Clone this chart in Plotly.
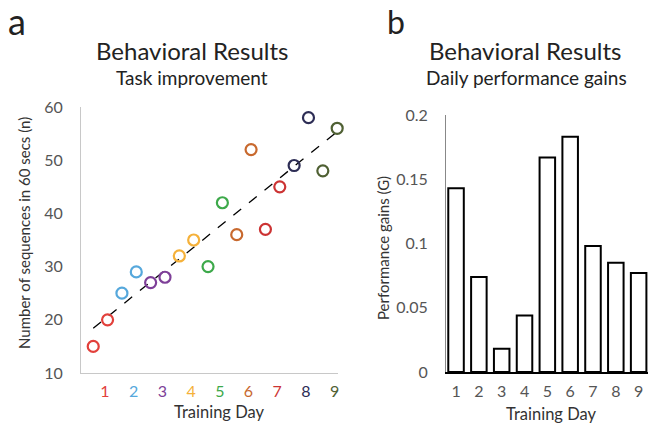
import numpy as np
import plotly.graph_objects as go

# ---- data ----
days = [1, 2, 3, 4, 5, 6, 7, 8, 9]
day_colors = ["#e2403b", "#56a8dc", "#7e3f98", "#f5b13a", "#3da94a",
              "#c8692e", "#cc3333", "#2d2d55", "#4f6033"]
session1 = [15, 25, 27, 32, 30, 36, 37, 49, 48]   # first test of the day
session2 = [20, 29, 28, 35, 42, 52, 45, 58, 56]   # second test of the day
gains = [0.143, 0.074, 0.018, 0.044, 0.167, 0.183, 0.098, 0.085, 0.077]
session_offsets = [-0.41, 0.09]

FONT = "Lato"
W, H = 648, 426

def PX(x):
    return x / W

def PY(y):
    return 1 - y / H

fig = go.Figure()

# panel a: scatter of sessions
xs, ys, cs = [], [], []
for d, c, a, b in zip(days, day_colors, session1, session2):
    xs += [d + session_offsets[0], d + session_offsets[1]]
    ys += [a, b]
    cs += [c, c]

# linear trend through all sessions
idx = np.arange(1, len(ys) + 1)
k, c0 = np.polyfit(idx, ys, 1)
fig.add_trace(go.Scatter(
    x=[xs[0], xs[-1]], y=[c0 + k * idx[0], c0 + k * idx[-1]],
    mode="lines", line=dict(color="black", width=1.3, dash="10px,10px"),
    xaxis="x", yaxis="y", showlegend=False, hoverinfo="skip", cliponaxis=False))

fig.add_trace(go.Scatter(
    x=xs, y=ys, mode="markers", cliponaxis=False,
    marker=dict(symbol="circle-open", size=11, color=cs, line=dict(width=2.2)),
    xaxis="x", yaxis="y", showlegend=False))

# panel b: bars
fig.add_trace(go.Bar(
    x=days, y=gains, width=0.68, cliponaxis=False,
    marker=dict(color="white", line=dict(color="black", width=2)),
    xaxis="x2", yaxis="y2", showlegend=False))

tick_font = dict(family=FONT, size=16, color="#555555")
ticktext_a = [f'<span style="color:{c}">{d}</span>' for d, c in zip(days, day_colors)]

XA_MIN, XA_MAX = 0.164, 9.12
fig.update_layout(
    width=W, height=H,
    margin=dict(l=0, r=0, t=0, b=0, autoexpand=False),
    paper_bgcolor="white", plot_bgcolor="white",
    font=dict(family=FONT),
    xaxis=dict(domain=[PX(81), PX(81 + (XA_MAX - XA_MIN) * 28.7)], range=[XA_MIN, XA_MAX],
               tickmode="array", tickvals=days, ticktext=ticktext_a,
               showgrid=False, zeroline=False, showline=True,
               linecolor="#c8c8c8", linewidth=1,
               ticks="outside", ticklen=4, tickcolor="rgba(0,0,0,0)",
               tickfont=dict(family=FONT, size=16), anchor="y", automargin=False),
    yaxis=dict(domain=[PY(373), PY(107)], range=[10, 60],
               tickvals=[10, 20, 30, 40, 50, 60],
               showgrid=False, zeroline=False, showline=True,
               linecolor="#c8c8c8", linewidth=1,
               ticks="outside", ticklen=14, tickcolor="rgba(0,0,0,0)",
               tickfont=tick_font, anchor="x", automargin=False),
    xaxis2=dict(domain=[PX(446), 1.0], range=[0.56, 9.41],
                tickmode="array", tickvals=days,
                showgrid=False, zeroline=False, showline=True,
                linecolor="black", linewidth=1.5,
                ticks="outside", ticklen=4, tickcolor="rgba(0,0,0,0)",
                tickfont=dict(family=FONT, size=16, color="#555555"), anchor="y2",
                automargin=False),
    yaxis2=dict(domain=[PY(372), PY(115)], range=[0, 0.2],
                tickvals=[0, 0.05, 0.1, 0.15, 0.2],
                ticktext=["0", "0.05", "0.1", "0.15", "0.2"],
                showgrid=False, zeroline=False, showline=True,
                linecolor="#888888", linewidth=1,
                ticks="outside", ticklen=14, tickcolor="rgba(0,0,0,0)",
                tickfont=tick_font, anchor="x2", automargin=False),
)

def ann(text, x, y, size, color="#222222", angle=0):
    fig.add_annotation(text=text, x=PX(x), y=PY(y), xref="paper", yref="paper",
                       showarrow=False, xanchor="center", yanchor="middle",
                       textangle=angle, font=dict(family=FONT, size=size, color=color))

ann("a", 17, 21, 36, "#222222")
ann("b", 396, 21, 32, "#222222")
ann("Behavioral Results", 192, 51, 24)
ann("Task improvement", 192, 78, 19)
ann("Behavioral Results", 525, 51, 24)
ann("Daily performance gains", 526, 78, 19)
ann("Number of sequences in 60 secs (n)", 24, 233, 15, "#333333", -90)
ann("Performance gains (G)", 383, 248, 15, "#333333", -90)
ann("Training Day", 219, 412, 16.5, "#333333")
ann("Training Day", 551, 414, 16.5, "#333333")

# remove the default 8px page margin so the 648x426 figure fills the window exactly
fig.write_html("out.html", config={"displayModeBar": False},
               post_script="document.body.style.margin='0';document.body.style.overflow='hidden';")
